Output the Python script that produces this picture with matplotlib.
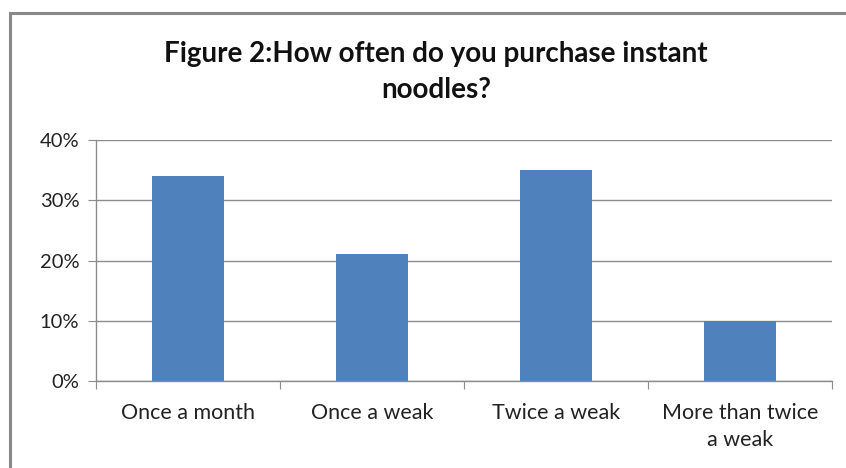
import matplotlib.pyplot as plt
from matplotlib.patches import Rectangle
from matplotlib.ticker import PercentFormatter
import numpy as np

# survey answers and share of respondents (%)
categories = ["Once a month", "Once a weak", "Twice a weak", "More than twice\na weak"]
shares = [34, 21, 35, 10]
yticks = [0, 10, 20, 30, 40]

bar_color = "#4F81BD"
grid_color = "#8C8C8C"

plt.rcParams['font.family'] = ['Lato', 'DejaVu Sans']

fig = plt.figure(figsize=(8.46, 4.68), dpi=100)
W, H = 846, 468

# chart border
fig.patches.append(Rectangle((10 / W, -0.05), 1.0, 1 - 13 / H + 0.05,
                             transform=fig.transFigure, fill=False,
                             edgecolor="#8A8A8A", linewidth=2.2))

ax = fig.add_axes([96 / W, 1 - 381 / H, (832 - 96) / W, (381 - 140) / H])
x = np.arange(len(categories))
ax.bar(x, shares, width=0.39, color=bar_color, zorder=3)

ax.set_xlim(-0.5, len(categories) - 0.5)
ax.set_ylim(0, 40)
ax.set_yticks(yticks)
ax.yaxis.set_major_formatter(PercentFormatter(decimals=0))
ax.grid(axis="y", color=grid_color, linewidth=1.0, zorder=0)
ax.set_axisbelow(True)

for s in ["top", "right"]:
    ax.spines[s].set_visible(False)
for s in ["left", "bottom"]:
    ax.spines[s].set_color(grid_color)
    ax.spines[s].set_linewidth(1.0)

# category labels between boundary ticks
ax.set_xticks(np.arange(-0.5, len(categories)), minor=False)
ax.set_xticklabels([])
ax.set_xticks(x, minor=True)
ax.set_xticklabels(categories, minor=True, fontsize=15.5, color="#222222",
                   linespacing=1.45)
ax.tick_params(axis="x", which="major", length=6, color=grid_color)
ax.tick_params(axis="x", which="minor", length=0, pad=16)
ax.tick_params(axis="y", length=6, color=grid_color, labelsize=14.5,
               labelcolor="#222222", pad=6)

fig.text(436 / W, 1 - 72 / H, "Figure 2:How often do you purchase instant\nnoodles?",
         ha="center", va="center", fontsize=20, fontweight="bold",
         color="#111111", linespacing=1.5)

fig.savefig("out.png", dpi=100)
